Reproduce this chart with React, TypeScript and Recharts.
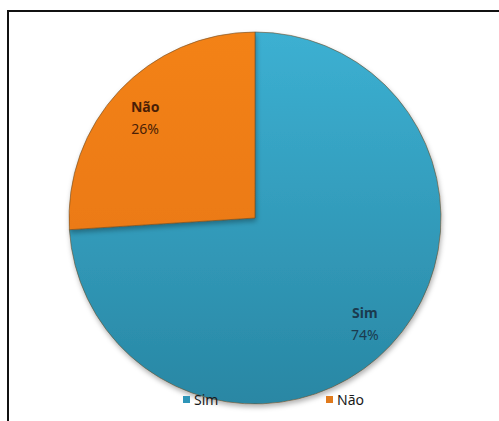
import React from "react";
import { Cell, Legend, Pie, PieChart } from "recharts";

const categories = ["Sim", "Não"];
const values = [74, 26];
const sliceColors = ["url(#simFill)", "url(#naoFill)"];
const legendColors = ["#2E95B8", "#E07A1C"];
const labelColors = ["#1B3A4E", "#4A1E06"];

const chartData = categories.map((name, i) => ({ name, value: values[i] }));
const total = values.reduce((a, b) => a + b, 0);

const RADIAN = Math.PI / 180;

function renderLabel(props: any): React.ReactElement {
  const { cx, cy, midAngle, outerRadius, index, value } = props;
  const r = outerRadius * 0.81;
  const x = cx + r * Math.cos(-midAngle * RADIAN);
  const y = cy + r * Math.sin(-midAngle * RADIAN);
  const pct = Math.round((value / total) * 100);
  return (
    <text
      x={x}
      y={y}
      textAnchor="middle"
      fill={labelColors[index]}
      fontFamily="'Noto Sans', sans-serif"
      fontSize={14}
    >
      <tspan x={x} dy={-3} fontWeight="bold">
        {categories[index]}
      </tspan>
      <tspan x={x} dy={22}>
        {pct}%
      </tspan>
    </text>
  );
}

function renderLegend(): React.ReactElement {
  return (
    <div style={{ display: "flex", fontFamily: "'Noto Sans', sans-serif", fontSize: 14, color: "#1a1a1a" }}>
      {categories.map((name, i) => (
        <div key={name} style={{ display: "flex", alignItems: "center", width: i === 0 ? 143 : "auto" }}>
          <span
            style={{
              display: "inline-block",
              width: 7,
              height: 7,
              background: legendColors[i],
              marginRight: 4,
            }}
          />
          <span>{name}</span>
        </div>
      ))}
    </div>
  );
}

export default function App(): React.ReactElement {
  return (
    <div style={{ position: "fixed", left: 0, top: 0, width: 499, height: 421, overflow: "hidden", background: "#fff" }}>
      <div style={{ position: "absolute", left: 7, top: 10, width: 2, height: 411, background: "#111" }} />
      <div style={{ position: "absolute", left: 7, top: 10, width: 492, height: 2, background: "#111" }} />
      <div style={{ position: "absolute", left: 0, top: 0 }}>
        <PieChart width={499} height={421} margin={{ top: 0, right: 0, bottom: 0, left: 0 }}>
          <defs>
            <linearGradient id="simFill" x1="0" y1="0" x2="0" y2="1">
              <stop offset="0%" stopColor="#3CB0D2" />
              <stop offset="100%" stopColor="#2987A4" />
            </linearGradient>
            <linearGradient id="naoFill" x1="0" y1="0" x2="0" y2="1">
              <stop offset="0%" stopColor="#F38219" />
              <stop offset="100%" stopColor="#EC7A12" />
            </linearGradient>
            <filter id="pieShadow" x="-10%" y="-10%" width="120%" height="120%">
              <feDropShadow dx="1" dy="3" stdDeviation="2.5" floodColor="#000" floodOpacity="0.3" />
            </filter>
          </defs>
          <Pie
            data={chartData}
            dataKey="value"
            nameKey="name"
            cx={255}
            cy={218}
            outerRadius={186}
            startAngle={90}
            endAngle={-270}
            stroke="#6b4f2a"
            strokeWidth={0.6}
            label={renderLabel}
            labelLine={false}
            isAnimationActive={false}
            style={{ filter: "url(#pieShadow)" }}
          >
            {chartData.map((d, i) => (
              <Cell key={d.name} fill={sliceColors[i]} />
            ))}
          </Pie>
          <Legend
            content={renderLegend}
            wrapperStyle={{ position: "absolute", left: 183, top: 390, width: 220 }}
          />
        </PieChart>
      </div>
    </div>
  );
}
